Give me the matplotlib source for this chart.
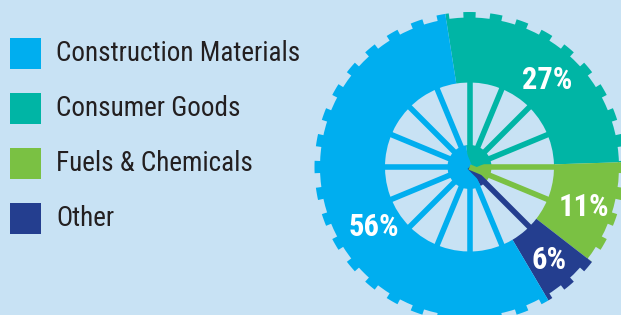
import numpy as np
import matplotlib.pyplot as plt
from matplotlib.patches import Wedge, Rectangle

categories = ["Construction Materials", "Consumer Goods", "Fuels & Chemicals", "Other"]
shares = [56, 27, 11, 6]
pct_labels = ["56%", "27%", "11%", "6%"]
colors = ["#00aeef", "#00b5a5", "#7ac143", "#243e8f"]

BG = "#c8e2f4"
TEXT = "#231f20"
FONT = ["Roboto Condensed", "DejaVu Sans"]

# wheel geometry (pixels)
cx, cy = 469.5, 148
r_tooth, r_base, r_hole, r_hub = 155, 149.5, 84.5, 22
start = 99  # slices run clockwise from here
n_teeth, tooth_deg = 36, 4.6
n_spokes = 16

fig = plt.figure(figsize=(6.21, 3.15), dpi=100)
fig.patch.set_facecolor(BG)
ax = fig.add_axes([0, 0, 1, 1])
ax.set_xlim(0, 621)
ax.set_ylim(0, 315)
ax.axis("off")

# angle range of each slice, going clockwise: Consumer, Fuels, Other, Construction
spans = np.array(shares) / sum(shares) * 360
edges = {}
a = start
for i in [1, 2, 3, 0]:
    edges[i] = (a - spans[i], a)
    a -= spans[i]


def slice_of(ang):
    for i, (t1, t2) in edges.items():
        for s in (-360, 0, 360):
            if t1 <= ang + s < t2:
                return i
    return 0


for i, (t1, t2) in edges.items():
    c = colors[i]
    ax.add_patch(Wedge((cx, cy), r_base, t1, t2, width=r_base - r_hole, color=c, lw=0))
    ax.add_patch(Wedge((cx, cy), r_hub, t1, t2, color=c, lw=0))
    # teeth on the rim
    for k in range(n_teeth):
        a1 = k * 360 / n_teeth - tooth_deg / 2
        a2 = a1 + tooth_deg
        for s in (-360, 0, 360):
            lo, hi = max(t1, a1 + s), min(t2, a2 + s)
            if hi > lo:
                ax.add_patch(Wedge((cx, cy), r_tooth, lo, hi,
                                   width=r_tooth - r_base + 1, color=c, lw=0))

# spokes
for ang in np.arange(n_spokes) * 360 / n_spokes:
    rad = np.radians(ang)
    ax.plot([cx, cx + (r_hole + 1) * np.cos(rad)],
            [cy, cy + (r_hole + 1) * np.sin(rad)],
            color=colors[slice_of(ang)], lw=4, solid_capstyle="butt")

# percentage labels
for i, (t1, t2) in edges.items():
    mid = (t1 + t2) / 2
    r = 118
    if i == 0:
        mid += 10
        r = 112
    rad = np.radians(mid)
    ax.text(cx + r * np.cos(rad) + 2, cy + r * np.sin(rad) - 13, pct_labels[i],
            color="white", fontsize=22, fontweight="bold", family=FONT,
            fontstretch="condensed", ha="center", va="baseline")

# legend
for j, name in enumerate(categories):
    yc = 261.3 - j * 55
    ax.add_patch(Rectangle((10, yc - 15.5), 31, 31, color=colors[j], lw=0))
    ax.text(56, yc - 7.3, name, color=TEXT, fontsize=19.5, family=FONT,
            fontstretch="condensed", ha="left", va="baseline")

fig.savefig("out.png", dpi=100, facecolor=BG)
